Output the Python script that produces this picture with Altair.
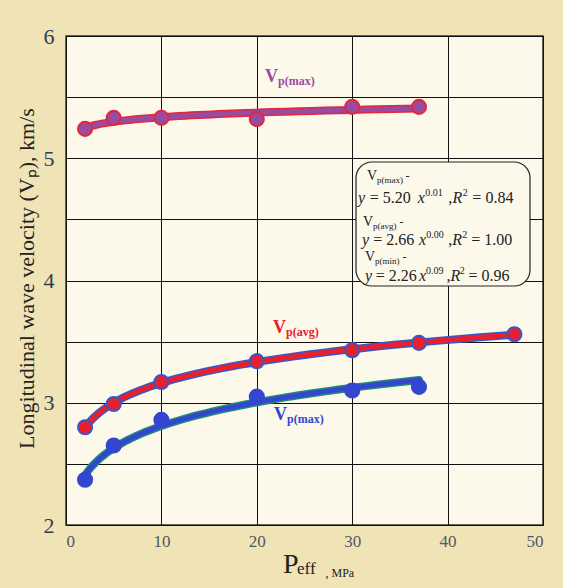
import altair as alt
import pandas as pd

# ---- data ----
P_max = [2, 5, 10, 20, 30, 37]
V_max = [5.24, 5.33, 5.33, 5.32, 5.42, 5.42]
P_avg = [2, 5, 10, 20, 30, 37, 47]
V_avg = [2.80, 2.99, 3.17, 3.34, 3.43, 3.49, 3.56]
P_min = [2, 5, 10, 20, 30, 37]
V_min = [2.37, 2.65, 2.86, 3.05, 3.10, 3.13]

x_ticks = [0, 10, 20, 30, 40, 50]
y_grid = [2, 2.5, 3, 3.5, 4, 4.5, 5, 5.5, 6]

series = ["max", "avg", "min"]
core_colors = ["#9A4A9F", "#E8202C", "#3446CF"]
edge_colors = ["#E2283A", "#3A56C8", "#1E8C78"]

rows = []
for s, P, V in [("max", P_max, V_max), ("avg", P_avg, V_avg), ("min", P_min, V_min)]:
    for p, v in zip(P, V):
        rows.append({"series": s, "P": p, "V": v})
df = pd.DataFrame(rows)

W, H = 477, 489
L, T = 66, 36

# ---- rich text pieces (pixel positions relative to plot area) ----
EM = {"0": .5, "1": .5, "2": .5, "3": .5, "4": .5, "5": .5, "6": .5, "7": .5, "8": .5, "9": .5,
      ".": .25, ",": .25, " ": .25, "=": .564, "y": .444, "x": .444, "R": .611, "-": .333,
      "V": .722, "p": .5, "(": .333, ")": .333, "m": .778, "a": .444, "g": .5, "v": .5,
      "i": .278, "n": .5}


def wid(t, size):
    return sum(EM.get(c, .5) for c in t) * size


pieces = []


def line(parts, x0, base, target=None, color="#222222", weight="normal"):
    nat = sum(wid(t, s) for t, s, _, _ in parts)
    k = (target / nat) if target else 1.0
    cx = x0
    for t, s, style, rise in parts:
        lead = len(t) - len(t.lstrip(" "))
        pieces.append({"t": t.strip(" "), "x": cx + lead * wid(" ", s) * k - L,
                       "y": base - rise - T, "size": s,
                       "style": style, "color": color, "weight": weight})
        cx += wid(t, s) * k


def eq(a, b, r2, x0, x1, base):
    line([("y", 16, "italic", 0), (" = " + a + " ", 16, "normal", 0), ("x", 16, "italic", 0),
          (b, 10, "normal", 7), (" ,", 16, "normal", 0), ("R", 16, "italic", 0),
          ("2", 10, "normal", 7), (" = " + r2, 16, "normal", 0)], x0, base, x1 - x0)


def vname(sub, x0, base):
    line([("V", 14, "normal", 0), ("p(" + sub + ")", 9, "normal", -3), (" -", 12, "normal", 0)], x0, base)


vname("max", 367, 180)
eq("5.20", "0.01", "0.84", 358, 516, 203)
vname("avg", 363, 226)
eq("2.66", "0.00", "1.00", 362, 513, 245)
vname("min", 365, 261)
eq("2.26", "0.09", "0.96", 365, 508, 281)

# curve labels
for sub, x0, base, col in [("max", 265, 82, "#9A4A9F"), ("avg", 273, 333, "#E8202C"),
                           ("max", 274, 420, "#3446CF")]:
    line([("V", 18, "normal", 0), ("p(" + sub + ")", 12, "normal", -3)], x0, base,
         color=col, weight="bold")

# x axis title
line([("P", 28, "normal", 0), ("eff", 17, "normal", -1), (" , MPa", 12, "normal", -4)], 283, 573,
     color="#222222")

pdf = pd.DataFrame(pieces)

xs = alt.Scale(domain=[0, 50], nice=False)
ys = alt.Scale(domain=[2, 6], nice=False)

base = alt.Chart(df)

reg = base.transform_regression("P", "V", method="pow", groupby=["series"])

edge_line = reg.mark_line(strokeWidth=8, strokeCap="round").encode(
    x=alt.X("P:Q", scale=xs),
    y=alt.Y("V:Q", scale=ys),
    color=alt.Color("series:N", scale=alt.Scale(domain=series, range=edge_colors), legend=None),
)
core_line = reg.mark_line(strokeWidth=5, strokeCap="round").encode(
    x=alt.X("P:Q", scale=xs),
    y=alt.Y("V:Q", scale=ys),
    stroke=alt.Stroke("series:N", scale=alt.Scale(domain=series, range=core_colors), legend=None),
)
points = base.mark_point(filled=True, size=200, opacity=1, strokeWidth=2).encode(
    x=alt.X("P:Q", scale=xs,
            axis=alt.Axis(values=x_ticks, title=None, grid=True, gridColor="#111111", gridWidth=1,
                          tickSize=0, domain=False, labelFont="Liberation Serif", labelFontSize=17,
                          labelColor="#4F5963", labelPadding=8, format="d")),
    y=alt.Y("V:Q", scale=ys,
            axis=alt.Axis(values=y_grid, grid=True, gridColor="#111111", gridWidth=1, tickSize=0,
                          domain=False, labelFont="Liberation Serif", labelFontSize=22,
                          labelColor="#2E3F52", labelPadding=12, format=".0f",
                          labelExpr="datum.value % 1 == 0 ? datum.label : ''",
                          title="Longitudinal wave velocity (Vₚ), km/s",
                          titleFont="Liberation Serif", titleFontSize=22, titleFontWeight="normal",
                          titleColor="#222222", titleX=-40, titleY=242, titleAngle=270,
                          titleAlign="center", titleBaseline="middle")),
    fill=alt.Fill("series:N", scale=alt.Scale(domain=series, range=core_colors), legend=None),
    stroke=alt.Stroke("series:N", scale=alt.Scale(domain=series, range=["#E2283A", "#3A56C8", "#3446CF"]),
                      legend=None),
)

box = alt.Chart(pd.DataFrame({"a": [0]})).mark_rect(
    fill="#FCF8EA", stroke="#222222", strokeWidth=1.2, cornerRadius=16
).encode(x=alt.value(356 - L), x2=alt.value(530 - L), y=alt.value(162 - T), y2=alt.value(286 - T))

def txt(style, weight):
    return alt.Chart(pdf).transform_filter(
        (alt.datum.style == style) & (alt.datum.weight == weight)
    ).mark_text(font="Liberation Serif", fontStyle=style, fontWeight=weight, align="left",
                baseline="alphabetic").encode(
        x=alt.X("x:Q", scale=None),
        y=alt.Y("y:Q", scale=None),
        text="t:N",
        size=alt.Size("size:Q", scale=None, legend=None),
        color=alt.Color("color:N", scale=None),
    )

chart = alt.layer(
    edge_line, core_line, points, box,
    txt("normal", "normal"), txt("italic", "normal"), txt("normal", "bold"),
).resolve_scale(color="independent", stroke="independent").properties(
    width=W, height=H, background="#F0E3B5",
    autosize=alt.AutoSizeParams(type="none"),
    padding={"left": L, "top": T, "right": 563 - L - W, "bottom": 588 - T - H},
).configure_view(fill="#FCF8EA", stroke="#333333", strokeWidth=1.5)

chart.save("out.html", embed_options={"renderer": "svg", "actions": False})
